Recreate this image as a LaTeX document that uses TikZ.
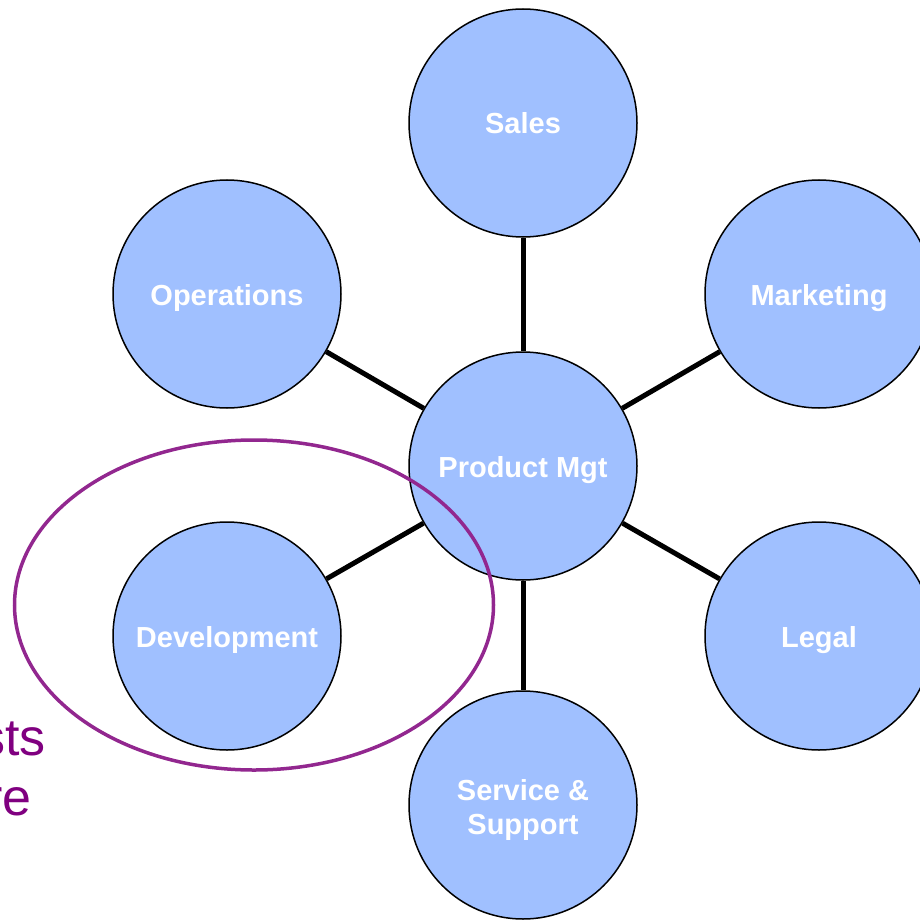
\documentclass[tikz,border=0pt]{standalone}
\usepackage{fontspec}
\setmainfont{Liberation Sans}
\usepackage{tikz}
\usetikzlibrary{positioning}
\definecolor{bubble}{RGB}{160,192,255}
\definecolor{ring}{RGB}{146,39,143}
\definecolor{note}{RGB}{128,0,128}

\begin{document}
\begin{tikzpicture}[x=1pt, y=-1pt,
thick, main/.style = {draw, circle, fill=bubble, line width=1.5pt, minimum size=228pt, inner sep=0pt,
  text=white, align=center, text height=22pt, text depth=0pt, font=\fontsize{29}{34}\selectfont\bfseries},
link/.style={line width=5pt},
notetext/.style={anchor=base east, inner sep=0pt, text=note, font=\fontsize{52}{60}\selectfont}]
\useasboundingbox (0,0) rectangle (920,920);
\clip (0,0) rectangle (920,920);
\node[main] (1) at (523,466) {Product Mgt};
\node[main] (2) at (523,123) {Sales};
\node[main] (3) at (227,294) {Operations};
\node[main] (4) at (819,294) {Marketing};
\node[main] (5) at (227,636) {Development};
\node[main] (6) at (819,636) {Legal};
\node[main, text height=59pt] (7) at (523,805) {Service \&\\Support};
\draw[link] (1) -- (2);
\draw[link] (1) -- (3);
\draw[link] (1) -- (4);
\draw[link] (1) -- (5);
\draw[link] (1) -- (6);
\draw[link] (1) -- (7);
% text running off the left edge
\node[notetext] (8) at (46,755) {sts};
\node[notetext] (9) at (32,815) {re};
% ring round Development
\draw[ring, line width=3.5pt] (254,605) ellipse [x radius=239.5, y radius=165];
\end{tikzpicture}
\end{document}
